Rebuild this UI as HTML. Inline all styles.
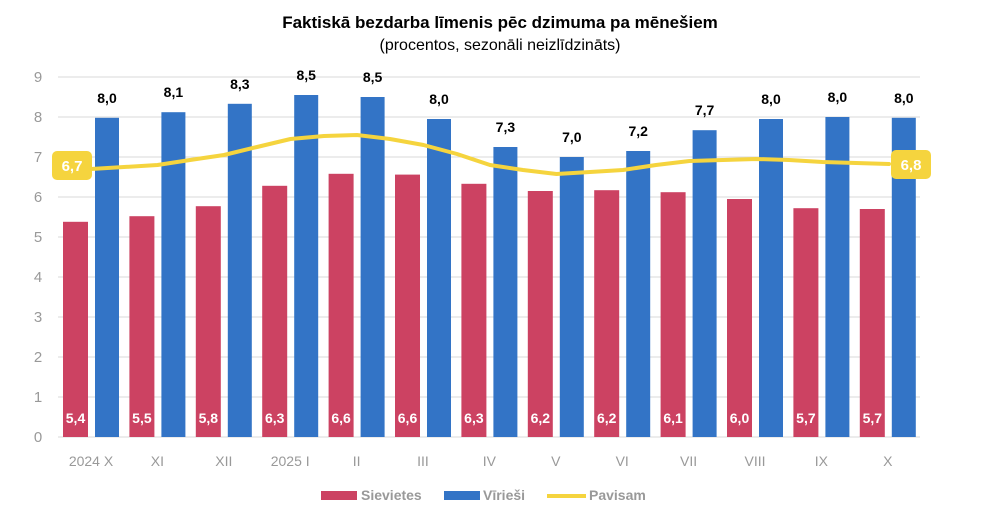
<!DOCTYPE html>
<html><head><meta charset="utf-8"><style>body{margin:0;background:#fff}svg{display:block}</style></head><body>
<svg width="1000" height="529" xmlns="http://www.w3.org/2000/svg" font-family="Liberation Sans, Arial, sans-serif">
<text x="500" y="28" text-anchor="middle" font-size="17" font-weight="bold" fill="#000">Faktiskā bezdarba līmenis pēc dzimuma pa mēnešiem</text>
<text x="500" y="50" text-anchor="middle" font-size="16" fill="#000">(procentos, sezonāli neizlīdzināts)</text>
<g stroke="#d9d9d9" stroke-width="1">
<line x1="58" x2="920" y1="77" y2="77"/><line x1="58" x2="920" y1="117" y2="117"/><line x1="58" x2="920" y1="157" y2="157"/><line x1="58" x2="920" y1="197" y2="197"/><line x1="58" x2="920" y1="237" y2="237"/><line x1="58" x2="920" y1="277" y2="277"/><line x1="58" x2="920" y1="317" y2="317"/><line x1="58" x2="920" y1="357" y2="357"/><line x1="58" x2="920" y1="397" y2="397"/><line x1="58" x2="920" y1="437" y2="437"/>
</g>
<g font-size="15" fill="#999" text-anchor="middle">
<text x="38" y="82">9</text><text x="38" y="122">8</text><text x="38" y="162">7</text><text x="38" y="202">6</text><text x="38" y="242">5</text><text x="38" y="282">4</text><text x="38" y="322">3</text><text x="38" y="362">2</text><text x="38" y="402">1</text><text x="38" y="442">0</text>
</g>
<g fill="#cc4262">
<rect x="63" y="221.8" width="25" height="215.2"/>
<rect x="129.4" y="216.2" width="25" height="220.8"/>
<rect x="195.8" y="206.2" width="25" height="230.8"/>
<rect x="262.2" y="185.8" width="25" height="251.2"/>
<rect x="328.6" y="173.8" width="25" height="263.2"/>
<rect x="395" y="174.6" width="25" height="262.4"/>
<rect x="461.4" y="183.8" width="25" height="253.2"/>
<rect x="527.8" y="191" width="25" height="246"/>
<rect x="594.2" y="190.2" width="25" height="246.8"/>
<rect x="660.6" y="192.2" width="25" height="244.8"/>
<rect x="727" y="199" width="25" height="238"/>
<rect x="793.4" y="208.2" width="25" height="228.8"/>
<rect x="859.8" y="209" width="25" height="228"/>
</g>
<g fill="#3374c6">
<rect x="95" y="117.8" width="24" height="319.2"/>
<rect x="161.4" y="112.2" width="24" height="324.8"/>
<rect x="227.8" y="103.8" width="24" height="333.2"/>
<rect x="294.2" y="95" width="24" height="342"/>
<rect x="360.6" y="97" width="24" height="340"/>
<rect x="427" y="119" width="24" height="318"/>
<rect x="493.4" y="147" width="24" height="290"/>
<rect x="559.8" y="157" width="24" height="280"/>
<rect x="626.2" y="151" width="24" height="286"/>
<rect x="692.6" y="130.2" width="24" height="306.8"/>
<rect x="759" y="119" width="24" height="318"/>
<rect x="825.4" y="117" width="24" height="320"/>
<rect x="891.8" y="117.8" width="24" height="319.2"/>
</g>
<g font-size="14" font-weight="bold" fill="#fff" text-anchor="middle">
<text x="75.5" y="423">5,4</text><text x="141.9" y="423">5,5</text><text x="208.3" y="423">5,8</text><text x="274.7" y="423">6,3</text><text x="341.1" y="423">6,6</text><text x="407.5" y="423">6,6</text><text x="473.9" y="423">6,3</text><text x="540.3" y="423">6,2</text><text x="606.7" y="423">6,2</text><text x="673.1" y="423">6,1</text><text x="739.5" y="423">6,0</text><text x="805.9" y="423">5,7</text><text x="872.3" y="423">5,7</text>
</g>
<g font-size="14" font-weight="bold" fill="#000" text-anchor="middle">
<text x="107" y="103">8,0</text><text x="173.4" y="97">8,1</text><text x="239.8" y="89">8,3</text><text x="306.2" y="80">8,5</text><text x="372.6" y="82">8,5</text><text x="439" y="104">8,0</text><text x="505.4" y="132">7,3</text><text x="571.8" y="142">7,0</text><text x="638.2" y="136">7,2</text><text x="704.6" y="115">7,7</text><text x="771" y="104">8,0</text><text x="837.4" y="102">8,0</text><text x="903.8" y="103">8,0</text>
</g>
<polyline fill="none" stroke="#f5d43e" stroke-width="4" stroke-linecap="round" stroke-linejoin="round" points="91,169 124,167 157.5,165 190,160 224,155 257,147 290.5,139 324,136 357,135 390,139 423.5,145 457,154 490,165 523,170 556.5,174 590,172 623,170 656,165 689.5,161 723,160 756,159 789,160 822.5,162 856,163 889,164"/>
<rect x="52" y="151" width="40" height="29" rx="5" fill="#f5d43e"/>
<text x="72" y="171" text-anchor="middle" font-size="15" font-weight="bold" fill="#fff">6,7</text>
<rect x="891" y="150" width="40" height="29" rx="5" fill="#f5d43e"/>
<text x="911" y="170" text-anchor="middle" font-size="15" font-weight="bold" fill="#fff">6,8</text>
<g font-size="14" fill="#999" text-anchor="middle">
<text x="91" y="466">2024 X</text><text x="157.4" y="466">XI</text><text x="223.8" y="466">XII</text><text x="290.2" y="466">2025 I</text><text x="356.6" y="466">II</text><text x="423" y="466">III</text><text x="489.4" y="466">IV</text><text x="555.8" y="466">V</text><text x="622.2" y="466">VI</text><text x="688.6" y="466">VII</text><text x="755" y="466">VIII</text><text x="821.4" y="466">IX</text><text x="887.8" y="466">X</text>
</g>
<rect x="321" y="491" width="36" height="9" fill="#cc4262"/>
<text x="361" y="500" font-size="14" font-weight="bold" fill="#999">Sievietes</text>
<rect x="444" y="491" width="36" height="9" fill="#3374c6"/>
<text x="483" y="500" font-size="14" font-weight="bold" fill="#999">Vīrieši</text>
<rect x="547" y="494" width="39" height="4" fill="#f5d43e"/>
<text x="589" y="500" font-size="14" font-weight="bold" fill="#999">Pavisam</text>
</svg>
</body></html>
